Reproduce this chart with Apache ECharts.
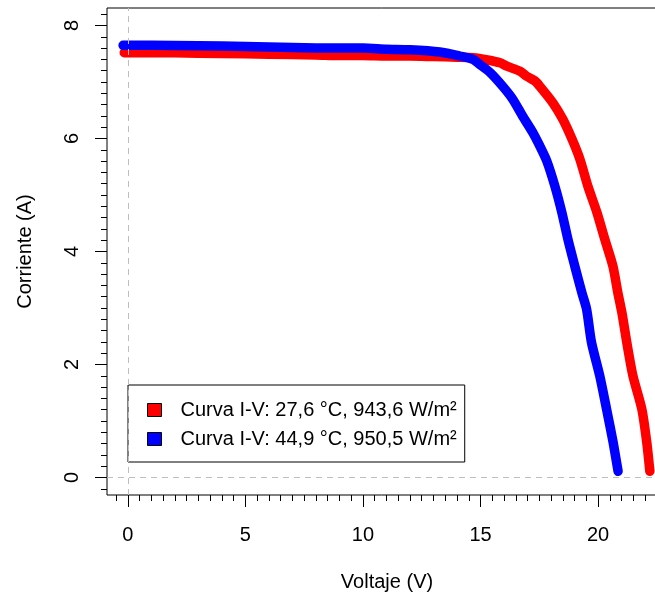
<!DOCTYPE html>
<html>
<head>
<meta charset="utf-8">
<script src="https://cdn.jsdelivr.net/npm/echarts@6/dist/echarts.min.js"></script>
<style>
html,body{margin:0;padding:0;background:#fff;}
#c{width:655px;height:596px;}
</style>
</head>
<body>
<div id="c"></div>
<script>
// ---- data ----
const seriesNames = ['Curva I-V: 27,6 °C, 943,6 W/m²', 'Curva I-V: 44,9 °C, 950,5 W/m²'];
const voltRed = [-0.15, 1, 3, 5, 6, 8, 9, 10, 11, 12, 13, 14, 14.7, 15.3, 15.83, 16.12, 16.68, 16.97, 17.31, 17.53, 18.08, 18.5, 18.9, 19.23, 19.57, 19.95, 20.29, 20.63, 20.84, 21.02, 21.22, 21.48, 21.86, 22.07, 22.2];
const currRed = [7.52, 7.52, 7.51, 7.50, 7.49, 7.48, 7.47, 7.47, 7.46, 7.46, 7.45, 7.44, 7.43, 7.39, 7.34, 7.28, 7.19, 7.10, 7.02, 6.92, 6.63, 6.34, 5.98, 5.63, 5.15, 4.69, 4.21, 3.74, 3.27, 2.90, 2.39, 1.80, 1.21, 0.62, 0.11];
const voltBlue = [-0.2, 1, 3, 5, 7, 9, 10, 11, 12, 13.27, 14.12, 14.68, 14.97, 15.40, 15.95, 16.38, 16.80, 17.23, 17.53, 17.82, 18.16, 18.46, 18.72, 19.01, 19.31, 19.51, 19.72, 20.07, 20.36, 20.64, 20.85];
const currBlue = [7.65, 7.65, 7.64, 7.63, 7.61, 7.60, 7.60, 7.58, 7.57, 7.53, 7.46, 7.40, 7.31, 7.17, 6.92, 6.69, 6.39, 6.10, 5.86, 5.60, 5.16, 4.69, 4.21, 3.74, 3.27, 2.98, 2.39, 1.80, 1.21, 0.62, 0.11];
const xMajorTicks = [0, 5, 10, 15, 20];
const yMajorTicks = [0, 2, 4, 6, 8];
const xMinorStep = 0.5, xMinorFrom = -0.5, xMinorTo = 22.5;
const yMinorStep = 0.2, yMinorFrom = -0.2, yMinorTo = 8.2;

// ---- layout ----
const XMIN = -0.884, XMAX = 22.93;
const YMIN = -0.31, YMAX = 8.31;

function steps(from, to, step) {
  const out = [];
  const n = Math.round((to - from) / step);
  for (let i = 0; i <= n; i++) out.push(+(from + i * step).toFixed(4));
  return out;
}
const xMinorTicks = steps(xMinorFrom, xMinorTo, xMinorStep);
const yMinorTicks = steps(yMinorFrom, yMinorTo, yMinorStep);

const pairs = (xs, ys) => xs.map((v, i) => [v, ys[i]]);
const FONT = 'Liberation Sans, Arial, Helvetica, sans-serif';

const chart = echarts.init(document.getElementById('c'), null, {renderer: 'canvas'});
const baseX = {type: 'value', min: XMIN, max: XMAX, position: 'bottom', splitLine: {show: false}, axisLine: {show: false, onZero: false}};
const baseY = {type: 'value', min: YMIN, max: YMAX, position: 'left', splitLine: {show: false}, axisLine: {show: false, onZero: false}};

function curve(name, data, color, z) {
  return {
    name: name, type: 'line', xAxisIndex: 0, yAxisIndex: 0,
    data: data,
    showSymbol: false, symbol: 'circle', symbolSize: 8,
    smooth: 0.25,
    itemStyle: {color: color},
    lineStyle: {color: color, width: 9.5, cap: 'round', join: 'round'},
    z: z
  };
}

const redSeries = curve(seriesNames[0], pairs(voltRed, currRed), '#ff0000', 2);
redSeries.markLine = {
  silent: true, symbol: ['none', 'none'], label: {show: false},
  lineStyle: {color: '#bebebe', type: [6, 5], width: 1},
  data: [{xAxis: 0}, {yAxis: 0}], z: 5
};
const blueSeries = curve(seriesNames[1], pairs(voltBlue, currBlue), '#0000ff', 3);

chart.setOption({
  animation: false,
  backgroundColor: '#ffffff',
  grid: {left: 107, top: 8, right: -12, bottom: 101, show: true, borderColor: '#000', borderWidth: 1, backgroundColor: 'transparent', containLabel: false, outerBoundsMode: 'none'},
  xAxis: [
    Object.assign({}, baseX, {
      name: 'Voltaje (V)', nameLocation: 'middle', nameGap: 77,
      nameTextStyle: {fontFamily: FONT, fontSize: 20, color: '#000'},
      axisTick: {show: true, length: 12, customValues: xMajorTicks, lineStyle: {color: '#000', width: 1}},
      axisLabel: {show: true, customValues: xMajorTicks, margin: 30, fontFamily: FONT, fontSize: 20, color: '#000'}
    }),
    Object.assign({}, baseX, {
      axisTick: {show: true, length: 6, customValues: xMinorTicks, lineStyle: {color: '#000', width: 1}},
      axisLabel: {show: false}
    })
  ],
  yAxis: [
    Object.assign({}, baseY, {
      name: 'Corriente (A)', nameLocation: 'middle', nameGap: 72, nameRotate: 90,
      nameTextStyle: {fontFamily: FONT, fontSize: 20, color: '#000'},
      axisTick: {show: true, length: 12, customValues: yMajorTicks, lineStyle: {color: '#000', width: 1}},
      axisLabel: {show: true, customValues: yMajorTicks, rotate: 90, margin: 25, fontFamily: FONT, fontSize: 20, color: '#000'}
    }),
    Object.assign({}, baseY, {
      axisTick: {show: true, length: 6, customValues: yMinorTicks, lineStyle: {color: '#000', width: 1}},
      axisLabel: {show: false}
    })
  ],
  legend: {
    orient: 'vertical', left: 128, top: 385,
    padding: [15, 8, 13, 19], itemGap: 9,
    itemWidth: 14, itemHeight: 13,
    borderColor: '#000', borderWidth: 1, backgroundColor: '#fff',
    textStyle: {fontFamily: FONT, fontSize: 20, color: '#000', padding: [0, 0, 0, 14]},
    data: [
      {name: seriesNames[0], icon: 'rect', itemStyle: {color: '#ff0000', borderColor: '#000', borderWidth: 1}},
      {name: seriesNames[1], icon: 'rect', itemStyle: {color: '#0000ff', borderColor: '#000', borderWidth: 1}}
    ]
  },
  series: [redSeries, blueSeries]
});
</script>
</body>
</html>
